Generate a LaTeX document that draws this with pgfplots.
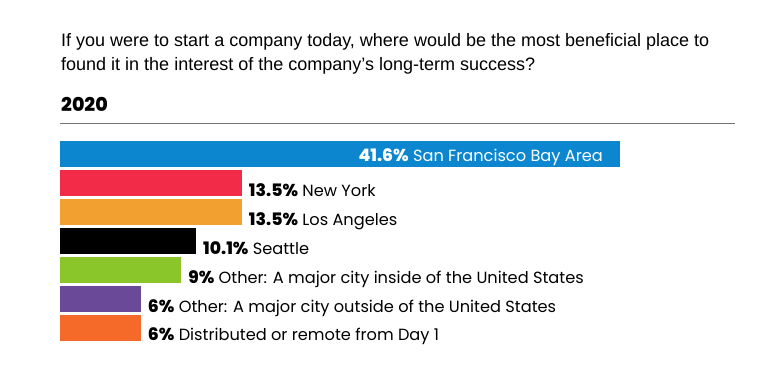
\documentclass[border=0pt]{standalone}
\usepackage{pgfplots}
\pgfplotsset{compat=1.18}
\usepackage{fontspec}
\setmainfont{Liberation Sans}
\newfontfamily\labfont{Poppins}[BoldFont={Poppins ExtraBold}]
\definecolor{cblue}{HTML}{0C87CF}
\definecolor{cred}{HTML}{F22C48}
\definecolor{corange}{HTML}{F2A030}
\definecolor{cgreen}{HTML}{8AC62A}
\definecolor{cpurple}{HTML}{6A4A98}
\definecolor{cored}{HTML}{F56A28}
\newcommand{\pct}[1]{{\fontsize{17.2}{20}\selectfont\bfseries #1}}
\begin{document}
\begin{tikzpicture}
\path[use as bounding box] (0pt,0pt) rectangle (775pt,-379pt);
\node[anchor=base west,inner sep=0,font=\fontsize{18}{20}\selectfont] at (61pt,-47pt) {If you were to start a company today, where would be the most beneficial place to};
\node[anchor=base west,inner sep=0,font=\fontsize{18}{20}\selectfont] at (61pt,-71pt) {found it in the interest of the company’s long-term success?};
\node[anchor=base west,inner sep=0,font=\labfont\fontsize{19}{20}\selectfont\bfseries] at (61pt,-112pt) {2020};
\draw[black!55, line width=1pt] (60pt,-123.5pt) -- (735pt,-123.5pt);
\begin{axis}[anchor=north west, at={(60pt,-139.5pt)}, scale only axis, width=560pt, height=203pt,
  xmin=0, xmax=41.6, ymin=-0.5, ymax=6.5, y dir=reverse, axis lines=none,
  xbar, bar width=26pt, bar shift=0pt, clip=false,
  nodes near coords style={anchor=base west, xshift=7pt, yshift=-13pt, inner sep=0, font=\labfont\fontsize{16.2}{20}\selectfont, text=black}]
\addplot[fill=cblue, draw=none, nodes near coords={\pct{41.6\%} San Francisco Bay Area},
  nodes near coords style={anchor=base east, xshift=-24pt, yshift=6pt, text=white}] coordinates {(41.6,0)};
\addplot[fill=cred, draw=none, nodes near coords={\pct{13.5\%} New York}] coordinates {(13.5,1)};
\addplot[fill=corange, draw=none, nodes near coords={\pct{13.5\%} Los Angeles}] coordinates {(13.5,2)};
\addplot[fill=black, draw=none, nodes near coords={\pct{10.1\%} Seattle}] coordinates {(10.1,3)};
\addplot[fill=cgreen, draw=none, nodes near coords={\pct{9\%} Other: A major city inside of the United States}] coordinates {(9,4)};
\addplot[fill=cpurple, draw=none, nodes near coords={\pct{6\%} Other: A major city outside of the United States}] coordinates {(6,5)};
\addplot[fill=cored, draw=none, nodes near coords={\pct{6\%} Distributed or remote from Day 1}] coordinates {(6,6)};
\end{axis}
\end{tikzpicture}
\end{document}
